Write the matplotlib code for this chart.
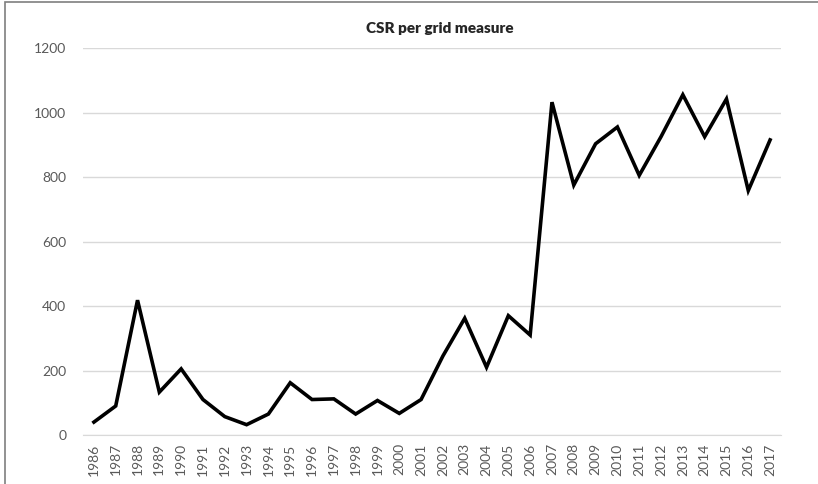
import matplotlib
matplotlib.use("Agg")
import matplotlib.pyplot as plt
from matplotlib.patches import Rectangle

years = [str(y) for y in range(1986, 2018)]
csr = [40, 90, 418, 133, 205, 110, 57, 32, 65, 162, 110, 112, 65, 107, 67, 110,
       245, 362, 210, 370, 310, 1032, 775, 903, 955, 805, 925, 1055, 925, 1042, 758, 915]
y_ticks = [0, 200, 400, 600, 800, 1000, 1200]

plt.rcParams['font.family'] = ['Lato', 'DejaVu Sans']

fig = plt.figure(figsize=(8.18, 4.84), dpi=100)
ax = fig.add_axes([83 / 818, 49 / 484, 698 / 818, 387 / 484])

x = list(range(len(years)))
ax.plot(x, csr, color='black', linewidth=2.6, solid_joinstyle='miter')

ax.set_xlim(-0.5, len(years) - 0.5)
ax.set_ylim(0, 1200)
ax.set_yticks(y_ticks)
ax.set_xticks(x)
ax.set_xticklabels(years, rotation=90)
ax.yaxis.grid(True, color='#d9d9d9', linewidth=1)
ax.set_axisbelow(True)
for s in ['top', 'right', 'left']:
    ax.spines[s].set_visible(False)
ax.spines['bottom'].set_color('#d9d9d9')
ax.tick_params(axis='both', length=0, labelsize=10, colors='#595959')
ax.tick_params(axis='y', pad=12)
ax.tick_params(axis='x', pad=6)

ax.text(0.511, 1.0 + 20 / 387, 'CSR per grid measure', transform=ax.transAxes,
        ha='center', va='center', fontsize=11, fontweight='heavy', color='#262626')

# outer chart frame (cropped at right/bottom)
fig.patches.append(Rectangle((5 / 818, -0.01), 1.2, 1 - 2 / 484 + 0.01,
                             transform=fig.transFigure, fill=False,
                             edgecolor='#7f7f7f', linewidth=1.2))

fig.savefig('out.png', dpi=100)
